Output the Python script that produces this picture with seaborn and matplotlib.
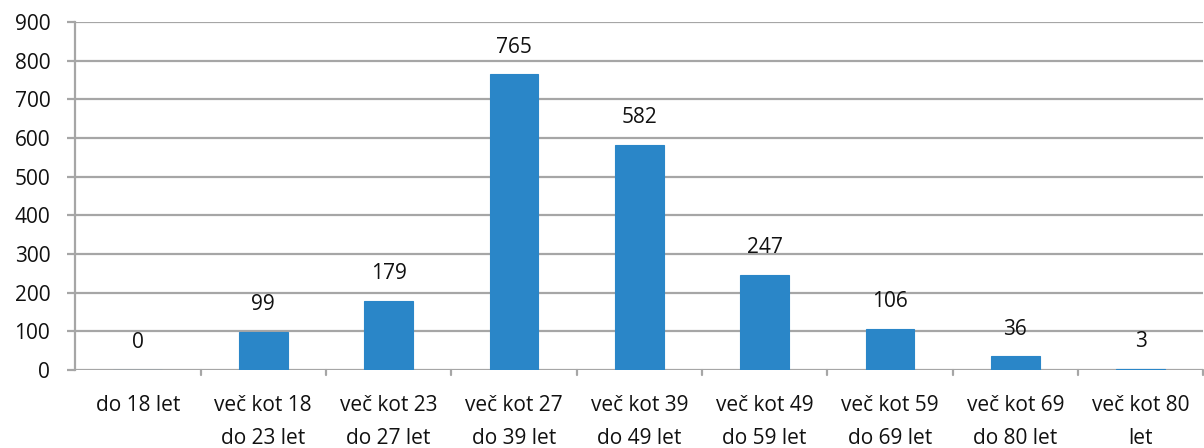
import matplotlib
matplotlib.use("Agg")
import matplotlib.pyplot as plt
import seaborn as sns
import pandas as pd

categories = ["do 18 let", "več kot 18\ndo 23 let", "več kot 23\ndo 27 let",
              "več kot 27\ndo 39 let", "več kot 39\ndo 49 let", "več kot 49\ndo 59 let",
              "več kot 59\ndo 69 let", "več kot 69\ndo 80 let", "več kot 80\nlet"]
values = [0, 99, 179, 765, 582, 247, 106, 36, 3]
yticks = [0, 100, 200, 300, 400, 500, 600, 700, 800, 900]

sns.set_theme(style="white")
plt.rcParams['font.family'] = ['Open Sans', 'DejaVu Sans']

FS = 15
TXT = "#111111"
GRID = "#A6A6A6"

df = pd.DataFrame({"cat": categories, "val": values})

fig = plt.figure(figsize=(12.04, 4.48), dpi=100)
ax = fig.add_axes([0.0625, 0.174, 0.937, 0.777])
sns.barplot(data=df, x="cat", y="val", color="#2A86C8", saturation=1, width=0.39,
            ax=ax, zorder=3, edgecolor="#2A86C8", linewidth=0.8)

ax.set_ylim(0, 900)
ax.set_xlim(-0.5, len(categories) - 0.5)
ax.set_yticks(yticks)
ax.set_yticklabels([str(t) for t in yticks], fontsize=FS, color=TXT)
ax.set_xlabel("")
ax.set_ylabel("")
for t in yticks:
    ax.axhline(t, color=GRID, lw=1.6, zorder=1)

for s in ["top", "right", "bottom"]:
    ax.spines[s].set_visible(False)
ax.spines["left"].set_color(GRID)
ax.spines["left"].set_linewidth(1.6)
ax.tick_params(axis="y", length=6, width=1.6, color=GRID, pad=12, left=True)

ax.set_xticks(range(len(categories)))
ax.set_xticklabels(categories, fontsize=FS, color=TXT, linespacing=1.72)
ax.tick_params(axis="x", length=0, pad=18)
for i in range(len(categories)):
    ax.plot([i + 0.5, i + 0.5], [0, -0.015], transform=ax.get_xaxis_transform(),
            color=GRID, lw=1.6, clip_on=False)

for i, v in enumerate(values):
    ax.annotate(str(v), (i, v), xytext=(0, 19.5), textcoords="offset points",
                ha="center", va="center", fontsize=FS, color=TXT)

fig.savefig("out.png", dpi=100)
